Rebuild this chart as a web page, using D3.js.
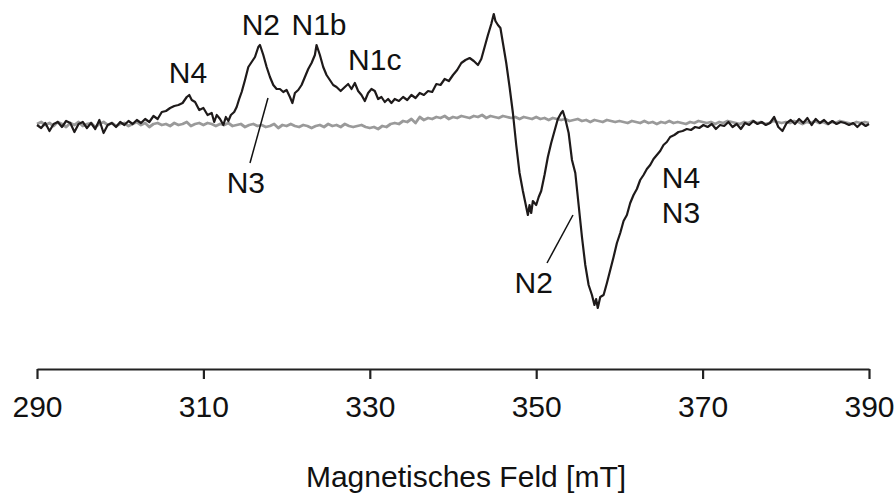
<!DOCTYPE html>
<html>
<head>
<meta charset="utf-8">
<script src="https://cdn.jsdelivr.net/npm/d3@7/dist/d3.min.js"></script>
<style>
  html, body { margin: 0; padding: 0; background: #fff; }
  svg { display: block; font-family: "Liberation Sans", Arial, sans-serif; }
</style>
</head>
<body>
<svg id="chart" width="894" height="499"></svg>
<script>
// ---- data ----
const xTicks = [290, 310, 330, 350, 370, 390];
const xTitle = "Magnetisches Feld [mT]";

// black spectrum: [field mT, intensity a.u.]
const sampleField = [
290.0,290.5,291.0,291.5,292.0,292.5,293.0,293.5,294.0,294.5,295.0,295.5,296.0,296.5,297.0,297.5,298.0,298.5,299.0,299.5,
300.0,300.5,301.0,301.5,302.0,302.5,303.0,303.5,304.0,304.5,305.0,305.5,306.0,306.5,307.0,307.5,308.0,308.3,308.6,309.0,
309.5,310.0,310.5,311.0,311.3,311.6,312.0,312.4,312.7,313.0,313.3,313.7,314.0,314.3,314.6,315.0,315.4,315.8,316.2,316.6,
316.8,317.2,317.6,318.0,318.4,318.8,319.2,319.6,320.0,320.4,320.7,321.0,321.4,321.8,322.2,322.6,323.0,323.4,323.6,324.0,
324.4,324.8,325.2,325.6,326.0,326.5,327.0,327.4,327.8,328.2,328.6,329.0,329.4,329.8,330.2,330.6,331.0,331.4,331.8,332.2,
332.6,333.0,333.5,334.0,334.5,335.0,335.5,336.0,336.5,337.0,337.5,338.0,338.5,339.0,339.5,340.0,340.5,341.0,341.5,342.0,
342.5,343.0,343.4,343.8,344.2,344.6,344.9,345.1,345.4,345.7,346.0,346.4,346.8,347.2,347.6,348.0,348.4,348.8,349.0,349.2,
349.4,349.6,350.0,350.3,350.6,351.0,351.4,351.8,352.2,352.6,353.0,353.2,353.5,353.9,354.3,354.7,355.1,355.5,355.9,356.3,
356.7,357.0,357.2,357.4,357.7,358.1,358.5,358.9,359.3,359.7,360.1,360.5,360.9,361.3,361.7,362.1,362.5,362.9,363.3,363.7,
364.1,364.5,364.9,365.3,365.7,366.1,366.6,367.1,367.6,368.1,368.6,369.1,369.6,370.1,370.6,371.1,371.6,372.1,372.6,373.1,
373.6,374.1,374.6,375.1,375.6,376.1,376.6,377.1,377.6,378.1,378.6,379.1,379.6,380.1,380.6,381.1,381.6,382.1,382.6,383.1,
383.6,384.1,384.6,385.1,385.6,386.1,386.6,387.1,387.6,388.1,388.6,389.1,389.6,390.0
];
const sampleSignal = [
0,-3,2,-6,1,3,-2,4,2,-7,1,3,-3,2,-4,5,-8,0,2,-2,
3,0,4,1,5,2,6,3,9,6,13,14,17,19,20,22,28,30,25,23,
15,17,10,12,3,10,6,0,8,4,10,13,18,26,33,45,58,63,68,78,
80,70,58,48,40,36,36,33,35,28,22,32,35,40,48,56,62,70,80,70,
58,50,45,40,38,34,38,41,36,42,34,30,24,32,36,34,26,28,23,26,
22,26,24,28,25,30,27,32,30,34,33,41,40,46,44,50,55,62,65,67,
64,60,66,78,90,101,111,104,100,97,82,62,38,12,-20,-48,-66,-82,-90,-80,
-88,-76,-80,-72,-66,-50,-32,-18,-6,6,12,14,6,-8,-35,-48,-80,-112,-140,-160,
-170,-180,-174,-183,-172,-170,-158,-145,-132,-118,-108,-96,-90,-78,-70,-64,-55,-50,-44,-40,
-34,-30,-26,-20,-17,-12,-10,-7,-6,-4,-5,-2,-3,0,-2,1,-4,0,-1,3,
-2,1,-4,2,0,4,1,3,0,2,8,-2,-6,2,5,1,6,2,7,0,
6,2,5,1,4,1,3,2,0,2,-2,2,-1,1
];

// gray reference spectrum, sampled every 0.5 mT from 290 to 390
const refField = d3.range(290, 390.001, 0.5);
const refSignal = [
1,3,0,2,-1,3,1,-2,2,0,3,-1,1,2,-2,1,3,0,2,-1,1,
2,-1,1,3,0,2,-2,1,2,0,1,-1,2,0,1,3,-1,1,2,0,
2,1,-1,1,0,2,-1,0,1,-2,0,1,-1,0,-2,-1,1,-3,0,-1,
1,-1,-2,0,-1,-3,-1,0,-2,1,-1,0,-2,1,-1,-2,-1,0,-2,-3,
-2,-4,-1,-2,1,2,1,4,3,6,2,8,5,7,6,8,7,9,6,8,
7,9,8,7,9,8,10,7,9,8,7,9,8,7,8,6,8,7,6,8,
6,7,5,7,6,5,6,4,5,6,4,5,3,5,4,3,5,4,3,4,
3,2,4,3,2,4,2,3,1,3,2,4,2,3,2,1,3,2,4,3,
2,3,1,3,2,4,3,2,1,3,2,4,2,3,1,2,4,3,2,3,
2,4,3,1,3,2,4,2,3,1,3,2,4,3,2,1,3,2,3,2
];

// annotations (anchored in field / intensity units)
const labelText   = ["N4", "N2", "N1b", "N1c", "N3", "N2", "N4", "N3"];
const labelField  = [308.15, 316.9, 323.9, 330.6, 315.1, 349.7, 365.1, 365.1];
const labelSignal = [42, 90, 90, 55, -68, -168, -63, -98];
const labelAnchor = ["middle","middle","middle","middle","middle","middle","start","start"];
const leaderLines = [
  [[317.76, 27], [315.6, -38]],
  [[354.42, -90], [351.3, -138]]
];

// ---- chart ----
const svg = d3.select("#chart");
const x = d3.scaleLinear().domain([290, 390]).range([37, 869]);
const y = d3.scaleLinear().domain([-190, 115]).range([315, 10]);
const axisY = 369;

const line = d3.line().x(d => x(d[0])).y(d => y(d[1]));

const refData = refField.map((f, i) => [f, refSignal[i]]);
const sampleData = sampleField.map((f, i) => [f, sampleSignal[i]]);

svg.append("path").datum(refData)
  .attr("d", line).attr("fill", "none")
  .attr("stroke", "#9a9a9a").attr("stroke-width", 2.8)
  .attr("stroke-linejoin", "round");

svg.append("path").datum(sampleData)
  .attr("d", line).attr("fill", "none")
  .attr("stroke", "#1e1a1a").attr("stroke-width", 2.2)
  .attr("stroke-linejoin", "round");

// leader lines
svg.selectAll("line.leader").data(leaderLines).enter().append("line")
  .attr("class", "leader")
  .attr("x1", d => x(d[0][0])).attr("y1", d => y(d[0][1]))
  .attr("x2", d => x(d[1][0])).attr("y2", d => y(d[1][1]))
  .attr("stroke", "#111").attr("stroke-width", 1.5);

// labels
svg.selectAll("text.lab").data(labelText).enter().append("text")
  .attr("class", "lab")
  .attr("x", (d, i) => x(labelField[i]))
  .attr("y", (d, i) => y(labelSignal[i]))
  .attr("text-anchor", (d, i) => labelAnchor[i])
  .attr("font-size", 30).attr("fill", "#111")
  .text(d => d);

// x axis
const axis = d3.axisBottom(x).tickValues(xTicks).tickSize(10).tickSizeOuter(0)
  .tickFormat(d3.format("d"));
const g = svg.append("g").attr("transform", `translate(0,${axisY})`).call(axis);
g.select(".domain").attr("stroke", "#222").attr("stroke-width", 2.2);
g.selectAll(".tick line").attr("stroke", "#222").attr("stroke-width", 2.2);
g.selectAll(".tick text")
  .attr("y", 48).attr("dy", 0)
  .attr("font-size", 30).attr("font-family", "Liberation Sans, Arial, sans-serif")
  .attr("fill", "#111");

svg.append("text")
  .attr("x", 466).attr("y", 487)
  .attr("text-anchor", "middle")
  .attr("font-size", 30).attr("fill", "#111")
  .text(xTitle);
</script>
</body>
</html>
